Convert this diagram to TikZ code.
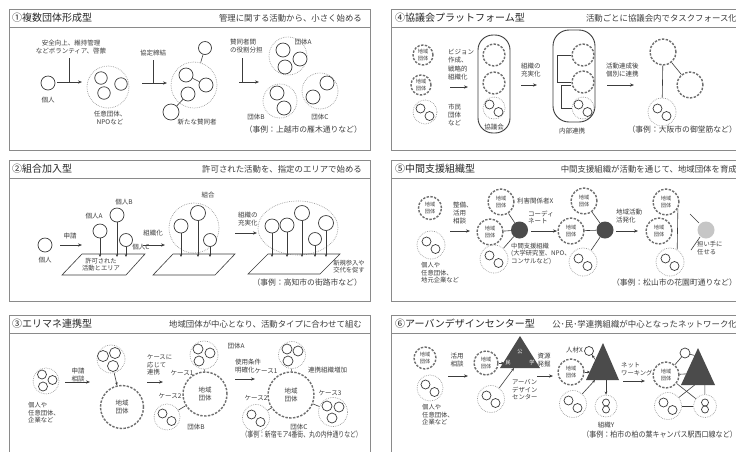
\documentclass[tikz,border=0pt]{standalone}
\usepackage{fontspec}
\setmainfont{Noto Sans CJK JP}
\usetikzlibrary{arrows.meta,shapes.geometric,calc}
\definecolor{ink}{HTML}{3C3C3C}
\definecolor{ttlc}{HTML}{262626}
\definecolor{frm}{HTML}{8A8A8A}
\definecolor{dshc}{HTML}{6E6E6E}
\definecolor{dotc}{HTML}{9A9A9A}
\definecolor{trif}{HTML}{4B4B4B}
\newcommand{\fsm}{\fontsize{6.5}{8}\selectfont}
\newcommand{\fsn}{\fontsize{6.3}{7.5}\selectfont}
\newcommand{\fcl}{\fontsize{5.2}{6.2}\selectfont}
\newcommand{\ftl}{\fontsize{10}{12}\selectfont}
\newcommand{\fsb}{\fontsize{8.4}{10}\selectfont}
\newcommand{\fex}{\fontsize{7.8}{9}\selectfont}
\tikzset{
 pnl/.style={draw=frm, line width=0.9},
 ttl/.style={font=\ftl, text=ttlc, inner sep=0, anchor=west},
 sbt/.style={font=\fsb, text=ink, inner sep=0, anchor=east},
 exm/.style={font=\fex, text=ink, inner sep=0, anchor=east},
 lb/.style={font=\fsm, text=ink, inner sep=0, align=left},
 pc/.style={circle, draw=ink, line width=0.7, inner sep=0, fill=white},
 sc/.style={pc, minimum size=9},
 dsh/.style={circle, draw=dshc, line width=1.4, dash pattern=on 2.4pt off 1.4pt, inner sep=0, font=\fcl, text=ink, align=center},
 dtc/.style={circle, draw=dotc, line width=0.7, dash pattern=on 0.7pt off 1.1pt, inner sep=0},
 ln/.style={draw=ink, line width=0.6},
 arr/.style={draw=ink, line width=0.7, -{Stealth[length=4pt,width=3.2pt]}},
 arrs/.style={draw=ink, line width=0.6, -{Stealth[length=3pt,width=2.6pt]}},
 capsule/.style={draw=ink, line width=0.9, rounded corners=15, inner sep=0},
}
\newcommand{\pair}[4]{%
  \node[dtc, minimum size=2*#4] (#1) at (#2,#3) {};
  \node[sc] (#1a) at (#2-4.5,#3-3.5) {};
  \node[sc] (#1b) at (#2+4.5,#3+4) {};}
\newcommand{\chiiki}[4]{\node[dsh, minimum size=2*#4] (#1) at (#2,#3) {地域\\団体};}
\newcommand{\harr}[4]{\coordinate (#1s) at (#2,#4); \coordinate (#1e) at (#3,#4); \draw[arr] (#1s) -- (#1e);}
\newcommand{\balloon}[5]{%
  \node[pc, minimum size=2*#4] (#1) at (#2,#3) {};
  \coordinate (#1g) at (#2,#5);
  \draw[arrs] (#1) -- (#1g);}
\begin{document}
\begin{tikzpicture}[x=1pt,y=-1pt]
\useasboundingbox (0,0) rectangle (736,451);
\fill[white] (0,0) rectangle (736,451);

% ================= Panel 1 =================
\draw[pnl] (9,9) rectangle (370,150);
\draw[pnl] (9,27) -- (370,27);
\node[ttl] (t1) at (12,18) {①複数団体形成型};
\node[sbt] (s1) at (362,18) {管理に関する活動から、小さく始める};
\node[exm] (e1) at (362,130) {（事例：上越市の雁木通りなど）};

\node[pc, minimum size=14] (p1i) at (48,83) {};
\node[lb] (p1il) at (48,100) {個人};
\node[lb, align=center] (p1ta) at (71,47.5) {安全向上、維持管理\\などボランティア、啓蒙};
\coordinate (p1v1) at (69,58); \coordinate (p1j1) at (69,82);
\draw[ln] (p1v1) -- (p1j1);
\harr{p1a1}{57}{82}{82}

\node[dtc, minimum size=42] (p1g1) at (108,87) {};
\node[pc, minimum size=12.5] (p1g1a) at (101,78) {};
\node[pc, minimum size=12.5] (p1g1b) at (121,84) {};
\node[pc, minimum size=12.5] (p1g1c) at (104,93) {};
\node[lb, align=center] (p1g1l) at (110,117.5) {任意団体、\\NPOなど};

\node[lb] (p1tb) at (153,53) {協定締結};
\coordinate (p1v2) at (153,60); \coordinate (p1j2) at (153,83);
\draw[ln] (p1v2) -- (p1j2);
\harr{p1a2}{142}{167}{83}

\node[dtc, minimum size=46] (p1g2) at (194,85) {};
\node[pc, minimum size=14] (p1g2a) at (186,75) {};
\node[pc, minimum size=14] (p1g2b) at (206,85) {};
\node[pc, minimum size=14] (p1g2c) at (188,94) {};
\draw[ln] (p1g2a) -- (p1g2b);
\node[pc, minimum size=13] (p1top) at (205,48) {};
\draw[ln] (p1top) -- (p1g2);
\node[pc, minimum size=16] (p1new) at (171,112) {};
\draw[ln] (p1new) -- (p1g2c);
\node[lb] (p1newl) at (197,122) {新たな賛同者};

\node[lb, anchor=north west] (p1tc) at (230,39) {賛同者間\\の役割分担};
\coordinate (p1v3) at (242,58); \coordinate (p1j3) at (242,82);
\draw[ln] (p1v3) -- (p1j3);
\harr{p1a3}{239}{259}{82}

\node[dtc, minimum size=38] (p1A) at (288,56) {};
\node[pc, minimum size=14] (p1Aa) at (283,50) {};
\node[pc, minimum size=14] (p1Ab) at (300,59) {};
\node[pc, minimum size=14] (p1Ac) at (285,67) {};
\node[lb] (p1Al) at (303,42) {団体A};
\node[dtc, minimum size=34] (p1B) at (280,101) {};
\node[pc, minimum size=14] (p1Ba) at (277,93) {};
\node[pc, minimum size=14] (p1Bb) at (284,108) {};
\node[lb] (p1Bl) at (256,117) {団体B};
\node[dtc, minimum size=36] (p1C) at (320,91) {};
\node[pc, minimum size=14] (p1Ca) at (327,83) {};
\node[pc, minimum size=14] (p1Cb) at (313,97) {};
\node[lb] (p1Cl) at (320,117) {団体C};

% ================= Panel 4 =================
\draw[pnl] (391,9) rectangle (760,150);
\draw[pnl] (391,27) -- (760,27);
\node[ttl] (t4) at (395,18) {④協議会プラットフォーム型};
\node[sbt] (s4) at (737,18) {活動ごとに協議会内でタスクフォース化};
\node[exm] (e4) at (737,130) {（事例：大阪市の御堂筋など）};

\chiiki{p4a}{423}{55}{10}
\chiiki{p4b}{421}{85}{10}
\pair{p4c}{425}{112}{12}
\node[lb, anchor=north west, font=\fontsize{6.5}{8.3}\selectfont] (p4t1) at (448,49) {ビジョン\\作成、\\戦略的\\組織化};
\harr{p4a1}{450}{468}{87}
\node[lb, anchor=north west] (p4t2) at (448,104) {市民\\団体\\など};
\node[capsule, minimum width=32, minimum height=98] (p4cap1) at (494,84) {};
\node[dsh, minimum size=22] (p4c1a) at (494,55) {};
\node[dsh, minimum size=22] (p4c1b) at (494,83) {};
\pair{p4c1c}{494}{108}{11}
\node[lb] (p4c1l) at (494,127) {協議会};
\node[lb, anchor=north west] (p4t3) at (521,63) {組織の\\充実化};
\harr{p4a2}{521}{537}{85}
\node[capsule, rounded corners=16, minimum width=42, minimum height=92] (p4cap2) at (574,76) {};
\node[dsh, minimum size=22] (p4c2a) at (583,55) {};
\node[dsh, minimum size=22] (p4c2b) at (583,82) {};
\pair{p4c2c}{583}{108}{11}
\draw[ln] (p4c2a.west) -- ++(-14,0) |- (p4c2b.west);
\draw[ln] ([yshift=-3]p4c2b.west) -- ++(-10,0) |- (p4c2c.west);
\node[lb] (p4c2l) at (572,131) {内部連携};
\node[lb, anchor=north west] (p4t4) at (606,63) {活動達成後\\個別に連携};
\harr{p4a3}{607}{634}{85}
\node[dsh, minimum size=26] (p4r1) at (663,52) {};
\node[dsh, minimum size=26] (p4r2) at (690,85) {};
\pair{p4r3}{662}{112}{14}
\draw[ln] (p4r1) -- (p4r3);
\draw[ln] (p4r1) -- (p4r2);

% ================= Panel 2 =================
\draw[pnl] (9,160) rectangle (370,301);
\draw[pnl] (9,178) -- (370,178);
\node[ttl] (t2) at (12,169) {②組合加入型};
\node[sbt] (s2) at (362,169) {許可された活動を、指定のエリアで始める};
\node[exm] (e2) at (362,283) {（事例：高知市の街路市など）};

\node[pc, minimum size=14] (p2i) at (45,245) {};
\node[lb] (p2il) at (45,260) {個人};
\node[lb] (p2t1) at (70,236) {申請};
\harr{p2a1}{60}{82}{245}
\coordinate (p2P1a) at (82,254); \coordinate (p2P1b) at (145,254);
\coordinate (p2P1c) at (126,275); \coordinate (p2P1d) at (62,275);
\draw[ln] (p2P1a) -- (p2P1b) -- (p2P1c) -- (p2P1d) -- cycle;
\node[lb, align=center, font=\fontsize{6.3}{7.3}\selectfont] (p2P1t) at (101,264.5) {許可された\\活動とエリア};
\balloon{p2A}{100}{231}{7}{257}
\balloon{p2B}{117}{215}{7}{257}
\balloon{p2C}{126}{240}{6.5}{257}
\node[lb] (p2Al) at (94,216) {個人A};
\node[lb] (p2Bl) at (124,202) {個人B};
\node[lb] (p2Cl) at (141,247) {個人C};

\node[lb] (p2t2) at (153,233) {組織化};
\harr{p2a2}{143}{165}{245}
\node[dtc, minimum size=50] (p2G) at (194,228) {};
\balloon{p2Ga}{181}{226}{7}{257}
\balloon{p2Gb}{198}{213}{7.5}{257}
\balloon{p2Gc}{210}{240}{6.5}{257}
\node[lb] (p2Gl) at (208,195) {組合};
\coordinate (p2P2a) at (173,254); \coordinate (p2P2b) at (235,254);
\coordinate (p2P2c) at (215,275); \coordinate (p2P2d) at (153,275);
\draw[ln] (p2P2a) -- (p2P2b) -- (p2P2c) -- (p2P2d) -- cycle;

\node[lb, anchor=north west] (p2t3) at (238,212) {組織の\\充実化};
\harr{p2a3}{235}{257}{233}
\node[dtc, ellipse, minimum width=80, minimum height=54] (p2E) at (298,228) {};
\balloon{p2Ea}{272}{226}{7}{257}
\balloon{p2Eb}{287}{225}{7}{257}
\balloon{p2Ec}{302}{213}{7.5}{257}
\balloon{p2Ed}{315}{239}{6.5}{257}
\balloon{p2Ee}{326}{223}{7.5}{257}
\coordinate (p2P3a) at (268,254); \coordinate (p2P3b) at (340,254);
\coordinate (p2P3c) at (320,274); \coordinate (p2P3d) at (248,274);
\draw[ln] (p2P3a) -- (p2P3b) -- (p2P3c) -- (p2P3d) -- cycle;
\node[lb, align=center, font=\fontsize{6.3}{7.3}\selectfont] (p2t4) at (349,266.5) {新規参入や\\交代を促す};

% ================= Panel 5 =================
\draw[pnl] (391,160) rectangle (760,301);
\draw[pnl] (391,178) -- (760,178);
\node[ttl] (t5) at (395,169) {⑤中間支援組織型};
\node[sbt] (s5) at (737,169) {中間支援組織が活動を通じて、地域団体を育成};
\node[exm] (e5) at (737,283) {（事例：松山市の花園町通りなど）};

\chiiki{p5a}{430}{208}{11.5}
\pair{p5b}{431}{245}{14}
\node[lb, anchor=north west, font=\fsn] (p5bl) at (421,262.5) {個人や\\任意団体、\\地元企業など};
\node[lb, anchor=north west] (p5t1) at (453,202) {整備、\\活用\\相談};
\harr{p5a1}{450}{470}{231}
\chiiki{p5mX}{501}{202}{13}
\chiiki{p5mA}{490}{232}{13}
\pair{p5mB}{494}{259}{14}
\node[circle, fill=trif, minimum size=17, inner sep=0] (p5mF) at (519.5,230) {};
\draw[ln] (p5mF) -- (p5mX);
\draw[ln] (p5mF) -- (p5mA);
\draw[ln] (p5mF) -- (p5mB);
\node[lb, anchor=west] (p5Xl) at (517,201) {利害関係者X};
\node[lb, anchor=north west, font=\fsn] (p5Fl) at (511,242.5) {中間支援組織\\(大学研究室、NPO、\\コンサルなど)};
\node[lb, anchor=north west, font=\fontsize{6.5}{7}\selectfont] (p5t2) at (528,211) {コーディ\\ネート};
\harr{p5a2}{531}{557}{231}

\chiiki{p5kA}{584}{201}{13}
\chiiki{p5kB}{571}{231}{13}
\pair{p5kC}{583}{262}{14}
\node[circle, fill=trif, minimum size=17, inner sep=0] (p5kF) at (605,230) {};
\draw[ln] (p5kF) -- (p5kA);
\draw[ln] (p5kF) -- (p5kB);
\draw[ln] (p5kF) -- (p5kC);
\node[lb, anchor=north west] (p5t3) at (616,209) {地域活動\\活発化};
\harr{p5a3}{616}{638}{231}

\chiiki{p5nA}{666}{202}{13}
\chiiki{p5nB}{659}{231}{13}
\pair{p5nC}{670}{262}{14}
\draw[ln] (p5nA.-30) -- (p5nC.60);
\node[circle, fill=gray!45, minimum size=17, inner sep=0] (p5nF) at (706,230) {};
\coordinate (p5u1) at (690,214); \coordinate (p5u2) at (699,223);
\draw[ln] (p5u1) -- (p5u2);
\coordinate (p5d1) at (700,237); \coordinate (p5d2) at (691,250);
\draw[ln] (p5d1) -- (p5d2);
\node[lb, anchor=north west, font=\fontsize{6.3}{7}\selectfont] (p5t4) at (697,241.5) {担い手に\\任せる};

% ================= Panel 3 =================
\draw[pnl] (9,315) rectangle (370,460);
\draw[pnl] (9,333) -- (370,333);
\node[ttl] (t3) at (12,324) {③エリマネ連携型};
\node[sbt] (s3) at (362,324) {地域団体が中心となり、活動タイプに合わせて組む};
\node[exm] (e3) at (362,435) {\scalebox{0.75}[1]{（事例：新宿モア4番街、丸の内仲通りなど）}};

\node[dtc, minimum size=26] (p3L) at (46,381) {};
\node[sc] (p3La) at (42,374.5) {};
\node[sc] (p3Lb) at (52.5,380) {};
\node[sc] (p3Lc) at (43,386.5) {};
\node[lb, anchor=north west, font=\fsn] (p3Ll) at (28,402.5) {個人や\\任意団体、\\企業など};
\node[lb, align=center] (p3t1) at (78,375) {申請\\相談};
\harr{p3a1}{65}{90}{382}
\node[dtc, minimum size=28] (p3M) at (111,359) {};
\node[pc, minimum size=11] (p3Ma) at (103,356) {};
\node[pc, minimum size=11] (p3Mb) at (115,353) {};
\node[pc, minimum size=11] (p3Mc) at (113,366) {};
\node[dsh, minimum size=43, font=\fsm] (p3B) at (122,407) {地域\\団体};
\draw[arrs] (p3M) -- (p3B);
\node[lb, anchor=north west, font=\fsn] (p3t2) at (147,354.5) {ケースに\\応じて\\連携};
\harr{p3a2}{147}{163}{382}

\node[dsh, minimum size=44, font=\fsm] (p3C) at (205,394) {地域\\団体};
\node[dtc, minimum size=28] (p3CA) at (204,355) {};
\node[pc, minimum size=10] (p3CAa) at (198,349) {};
\node[pc, minimum size=10] (p3CAb) at (210,353) {};
\node[pc, minimum size=10] (p3CAc) at (199,361) {};
\draw[ln] (p3CA) -- (p3C);
\node[lb] (p3CAl) at (236,346) {団体A};
\node[lb] (p3c1l) at (182,373) {ケース1};
\pair{p3CB}{167}{417}{13}
\draw[ln] (p3CB) -- (p3C);
\node[lb] (p3c2l) at (170,396) {ケース2};
\node[lb] (p3CBl) at (196,427) {団体B};

\node[lb, anchor=north west] (p3t3) at (235,359) {使用条件\\明確化};
\harr{p3a3}{235}{255}{379}

\node[dsh, minimum size=46, font=\fsm] (p3D) at (291,395) {地域\\団体};
\node[dtc, minimum size=27] (p3DA) at (292,355) {};
\node[pc, minimum size=10] (p3DAa) at (287,349) {};
\node[pc, minimum size=10] (p3DAb) at (298,351) {};
\node[pc, minimum size=10] (p3DAc) at (288,361) {};
\draw[ln] (p3DA) -- (p3D);
\node[lb] (p3Dc1) at (266,371) {ケース1};
\node[lb, anchor=west] (p3Dinc) at (308,370) {連携組織増加};
\pair{p3DB}{256}{418}{13.5}
\draw[ln] (p3DB) -- (p3D);
\node[lb] (p3Dc2) at (256,398) {ケース2};
\node[dtc, minimum size=29] (p3DC) at (333,412) {};
\node[pc, minimum size=10] (p3DCa) at (327,406) {};
\node[pc, minimum size=10] (p3DCb) at (339,407) {};
\node[pc, minimum size=10] (p3DCc) at (332,418) {};
\draw[ln] (p3DC) -- (p3D);
\node[lb] (p3Dc3) at (330,393) {ケース3};
\node[lb] (p3Dl) at (299,427) {団体C};

% ================= Panel 6 =================
\draw[pnl] (391,315) rectangle (760,460);
\draw[pnl] (391,333) -- (760,333);
\node[ttl] (t6) at (395,324) {⑥アーバンデザインセンター型};
\node[sbt] (s6) at (737,324) {公･民･学連携組織が中心となったネットワーク化};
\node[exm] (e6) at (737,435) {\scalebox{0.9}[1]{（事例：柏市の柏の葉キャンパス駅西口線など）}};

\chiiki{p6a}{425}{358}{11}
\pair{p6b}{430}{388}{13}
\node[lb, anchor=north west, font=\fsn] (p6bl) at (422,404.5) {個人や\\任意団体、\\企業など};
\node[lb, align=center] (p6t1) at (457,360) {活用\\相談};
\harr{p6a1}{448}{468}{376}
\chiiki{p6m}{486}{363}{12}
\pair{p6n}{491}{399}{13.5}
\coordinate (p6T1a) at (520,336); \coordinate (p6T1b) at (500,368); \coordinate (p6T1c) at (540,368);
\fill[trif] (p6T1a) -- (p6T1b) -- (p6T1c) -- cycle;
\node[font=\fcl, text=white, inner sep=0] (p6T1k) at (520,352) {公};
\node[font=\fcl, text=white, inner sep=0] (p6T1m) at (508,363) {民};
\node[font=\fcl, text=white, inner sep=0] (p6T1g) at (532,363) {学};
\coordinate (p6T1w) at (504,363);
\draw[arrs] (p6m) -- (p6T1w);
\coordinate (p6T1s) at ($(p6T1b)!0.35!(p6T1c)$);
\draw[arrs] (p6n) -- (p6T1s);
\node[lb, anchor=north west, font=\fsn] (p6t2) at (512,379.5) {アーバン\\デザイン\\センター};
\node[lb, align=center] (p6t3) at (544,360) {資源\\発掘};
\harr{p6a2}{537}{553}{376}

\chiiki{p6c}{571}{372}{13}
\coordinate (p6T2a) at (603,343); \coordinate (p6T2b) at (586,380); \coordinate (p6T2c) at (619,380);
\fill[trif] (p6T2a) -- (p6T2b) -- (p6T2c) -- cycle;
\pair{p6d}{573}{404}{13.5}
\node[dtc, minimum size=22] (p6Y) at (606,406) {};
\node[pc, minimum size=7] (p6Ya) at (606,402.5) {};
\node[pc, minimum size=7] (p6Yb) at (606,409.5) {};
\node[lb] (p6Yl) at (606,425) {組織Y};
\node[pc, minimum size=9] (p6X) at (589,351) {};
\node[lb, anchor=east] (p6Xl) at (583,350) {人材X};
\coordinate (p6T2x) at ($(p6T2a)!0.45!(p6T2b)$);
\draw[arrs] (p6T2x) -- (p6X);
\coordinate (p6T2y) at (606,380);
\draw[arrs] (p6T2y) -- (p6Y);
\coordinate (p6T2w) at (590,372);
\draw[arrs] (p6c) -- (p6T2w);
\coordinate (p6T2s) at (595,380);
\draw[arrs] (p6d) -- (p6T2s);
\node[lb, anchor=north west, font=\fsn] (p6t4) at (621,362.5) {ネット\\ワーキング};
\harr{p6a3}{623}{645}{381}

\chiiki{p6e}{666}{375}{13}
\coordinate (p6T3a) at (698,348); \coordinate (p6T3b) at (681,385); \coordinate (p6T3c) at (715,385);
\fill[trif] (p6T3a) -- (p6T3b) -- (p6T3c) -- cycle;
\node[pc, minimum size=10] (p6X2) at (685,353) {};
\pair{p6f}{668}{406}{13.5}
\node[dtc, minimum size=23] (p6Y2) at (705,406) {};
\node[pc, minimum size=7] (p6Y2a) at (705,402.5) {};
\node[pc, minimum size=7] (p6Y2b) at (705,409.5) {};
\draw[ln] (p6X2) -- (p6e);
\coordinate (p6T3x) at ($(p6T3a)!0.2!(p6T3b)$);
\draw[ln] (p6X2) -- (p6T3x);
\coordinate (p6T3w) at ($(p6T3a)!0.7!(p6T3b)$);
\draw[ln] (p6e) -- (p6T3w);
\draw[ln] (p6e) -- (p6Y2);
\coordinate (p6T3s) at ($(p6T3b)!0.4!(p6T3c)$);
\draw[ln] (p6f) -- (p6T3s);
\coordinate (p6T3y) at ($(p6T3b)!0.7!(p6T3c)$);
\draw[ln] (p6T3y) -- (p6Y2);
\draw[ln] (p6f) -- (p6Y2);
\end{tikzpicture}
\end{document}
